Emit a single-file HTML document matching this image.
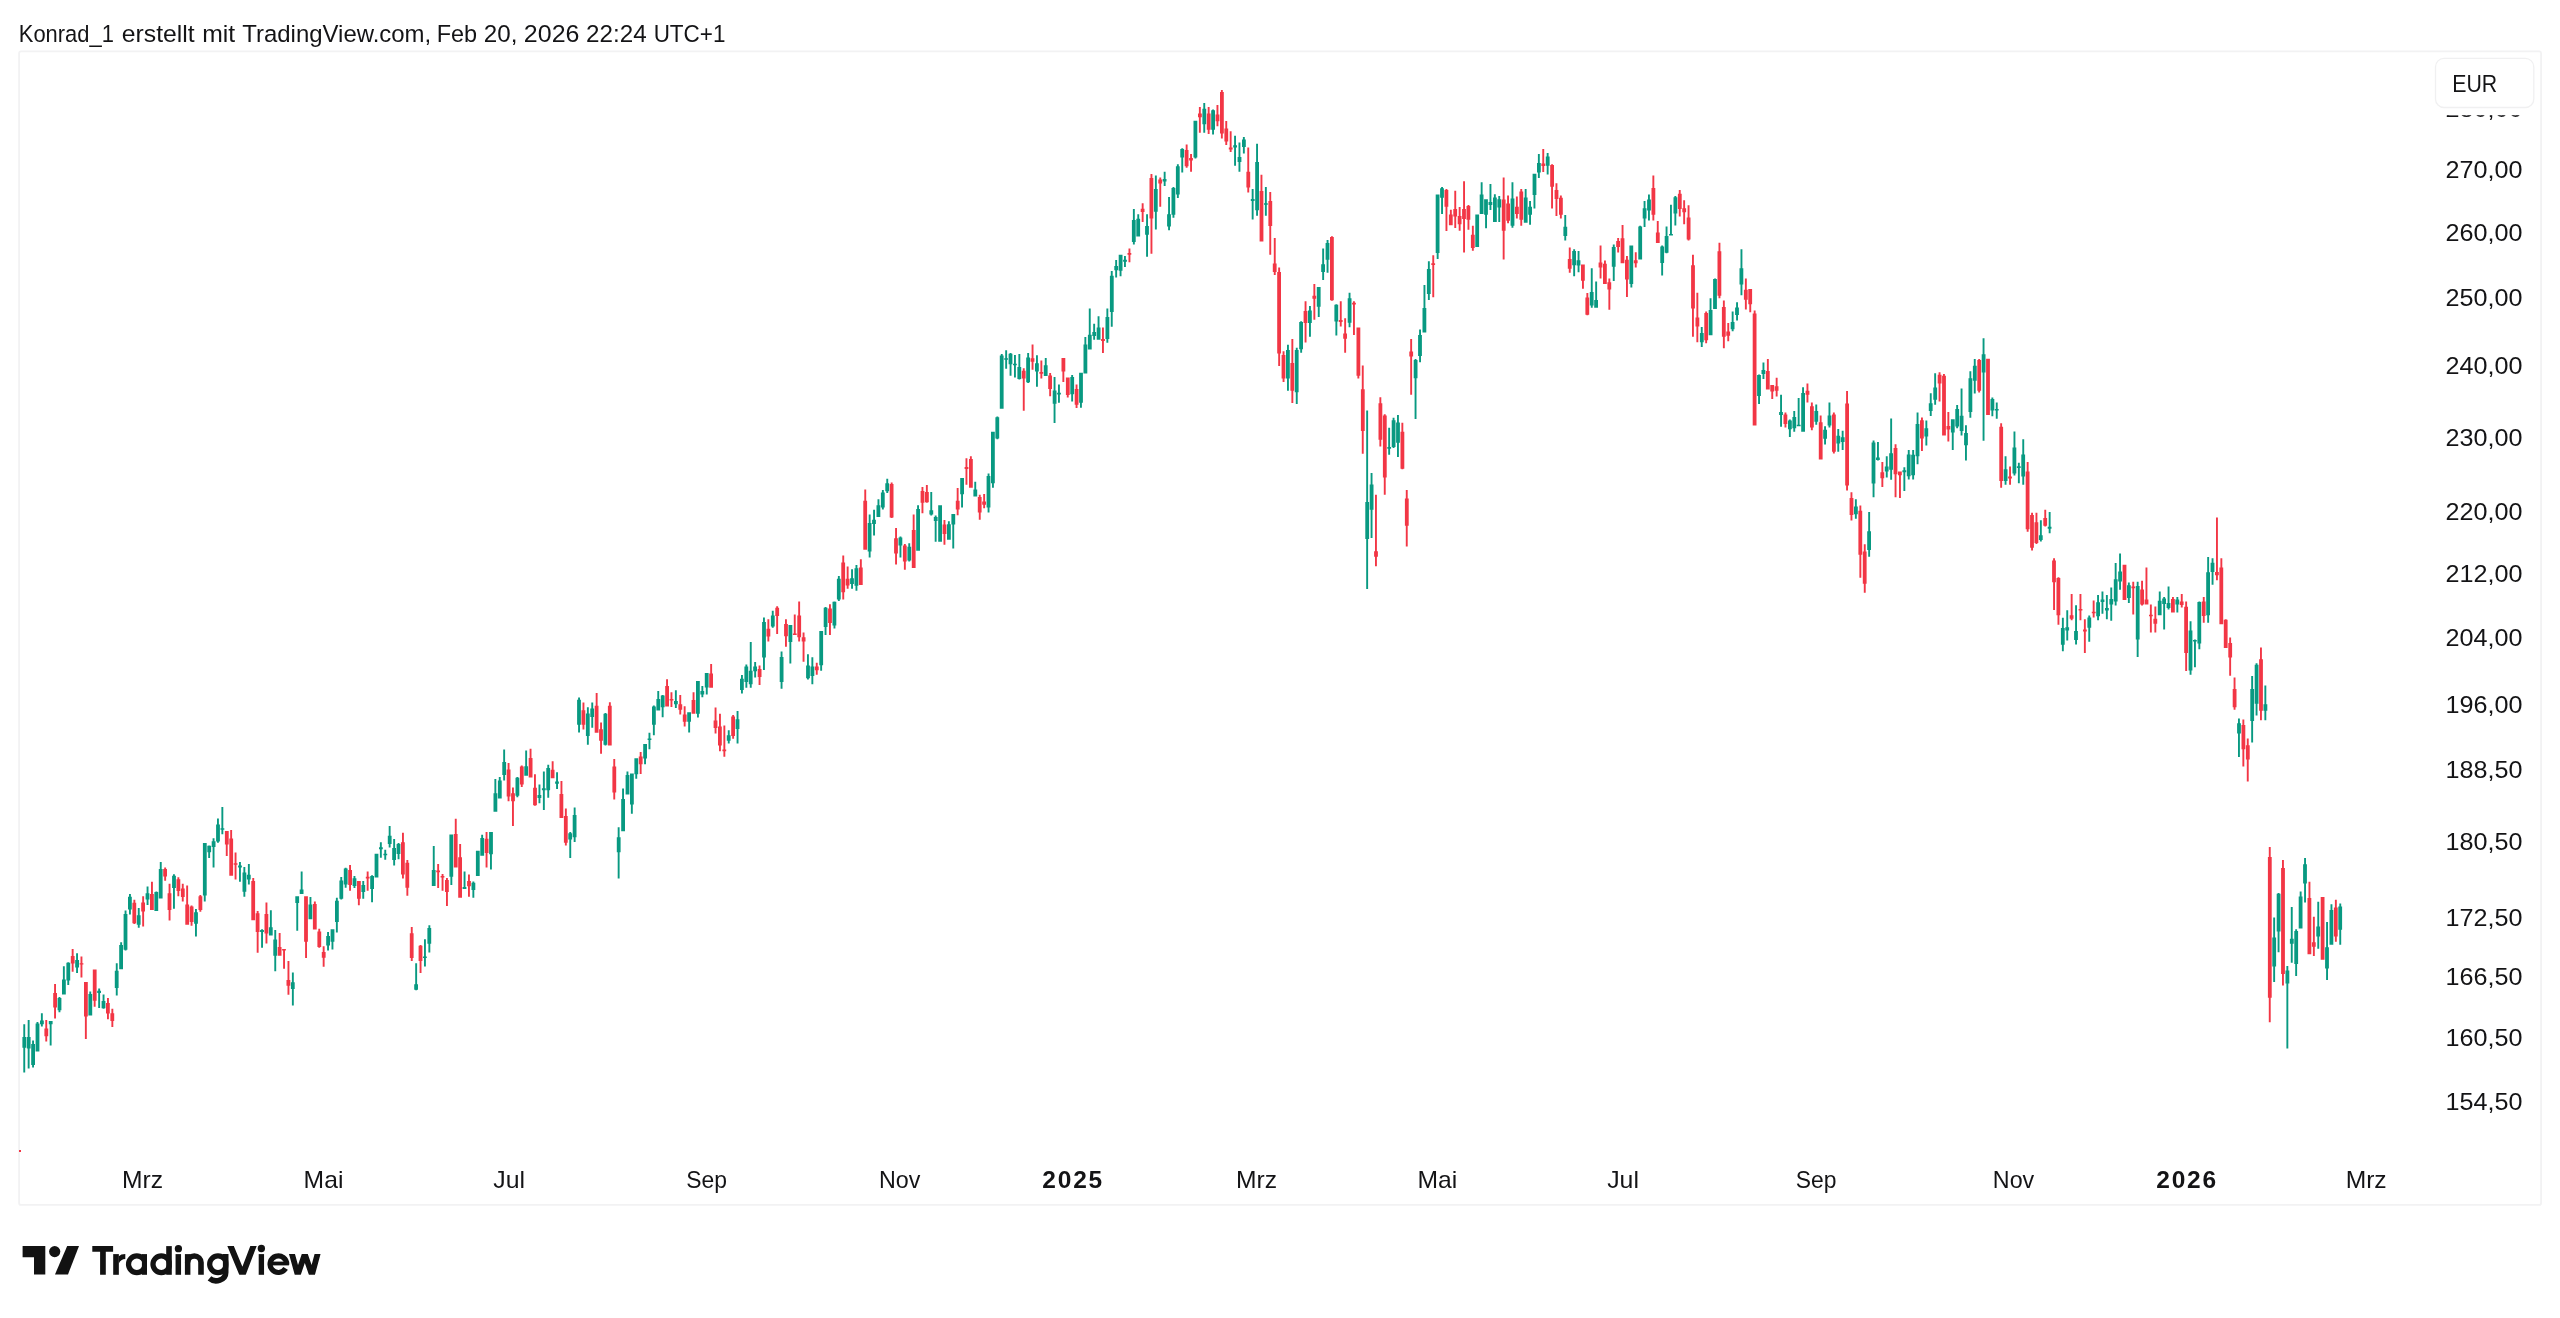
<!DOCTYPE html>
<html><head><meta charset="utf-8"><title>Chart</title>
<style>
html,body{margin:0;padding:0;background:#fff;}
body{width:2560px;height:1318px;position:relative;overflow:hidden;font-family:"Liberation Sans",sans-serif;}
svg{position:absolute;left:0;top:0;display:block;will-change:transform;}
text{font-family:"Liberation Sans",sans-serif;fill:#141416;}
</style></head><body>
<svg width="2560" height="1318" viewBox="0 0 2560 1318">
<rect x="0" y="0" width="2560" height="1318" fill="#fff"/>
<g font-size="24.5"><text x="18.81" y="42.0" textLength="95.07" lengthAdjust="spacingAndGlyphs">Konrad_1</text><text x="121.79" y="42.0" textLength="72.88" lengthAdjust="spacingAndGlyphs">erstellt</text><text x="202.23" y="42.0" textLength="32.96" lengthAdjust="spacingAndGlyphs">mit</text><text x="242.26" y="42.0" textLength="188.95" lengthAdjust="spacingAndGlyphs">TradingView.com,</text><text x="436.69" y="42.0" textLength="40.41" lengthAdjust="spacingAndGlyphs">Feb</text><text x="483.81" y="42.0" textLength="33.62" lengthAdjust="spacingAndGlyphs">20,</text><text x="523.88" y="42.0" textLength="55.58" lengthAdjust="spacingAndGlyphs">2026</text><text x="586.01" y="42.0" textLength="60.60" lengthAdjust="spacingAndGlyphs">22:24</text><text x="653.67" y="42.0" textLength="71.76" lengthAdjust="spacingAndGlyphs">UTC+1</text></g>
<rect x="19.1" y="51.3" width="2522" height="1153.6" rx="2" fill="none" stroke="#f2f2f3" stroke-width="1.8"/>
<g font-size="24.5"><text x="2445.6" y="117.20" textLength="76.95" lengthAdjust="spacingAndGlyphs">280,00</text><text x="2445.6" y="177.90" textLength="76.95" lengthAdjust="spacingAndGlyphs">270,00</text><text x="2445.6" y="240.89" textLength="76.95" lengthAdjust="spacingAndGlyphs">260,00</text><text x="2445.6" y="306.36" textLength="76.95" lengthAdjust="spacingAndGlyphs">250,00</text><text x="2445.6" y="374.49" textLength="76.95" lengthAdjust="spacingAndGlyphs">240,00</text><text x="2445.6" y="445.53" textLength="76.95" lengthAdjust="spacingAndGlyphs">230,00</text><text x="2445.6" y="519.72" textLength="76.95" lengthAdjust="spacingAndGlyphs">220,00</text><text x="2445.6" y="581.55" textLength="76.95" lengthAdjust="spacingAndGlyphs">212,00</text><text x="2445.6" y="645.75" textLength="76.95" lengthAdjust="spacingAndGlyphs">204,00</text><text x="2445.6" y="712.52" textLength="76.95" lengthAdjust="spacingAndGlyphs">196,00</text><text x="2445.6" y="777.65" textLength="76.95" lengthAdjust="spacingAndGlyphs">188,50</text><text x="2445.6" y="850.03" textLength="76.95" lengthAdjust="spacingAndGlyphs">180,50</text><text x="2445.6" y="925.70" textLength="76.95" lengthAdjust="spacingAndGlyphs">172,50</text><text x="2445.6" y="984.79" textLength="76.95" lengthAdjust="spacingAndGlyphs">166,50</text><text x="2445.6" y="1046.05" textLength="76.95" lengthAdjust="spacingAndGlyphs">160,50</text><text x="2445.6" y="1109.64" textLength="76.95" lengthAdjust="spacingAndGlyphs">154,50</text></g>
<rect x="2428" y="53" width="111" height="62.2" fill="#fff"/>
<rect x="2435.5" y="58.4" width="98.3" height="49.1" rx="8.5" fill="#fff" stroke="#f0f0f1" stroke-width="1.3"/>
<text x="2452.25" y="91.75" font-size="24.0" textLength="45.00" lengthAdjust="spacingAndGlyphs">EUR</text>
<g font-size="24.0"><text x="122.11" y="1187.8" textLength="41.03" lengthAdjust="spacingAndGlyphs">Mrz</text><text x="303.63" y="1187.8" textLength="39.74" lengthAdjust="spacingAndGlyphs">Mai</text><text x="493.23" y="1187.8" textLength="31.75" lengthAdjust="spacingAndGlyphs">Jul</text><text x="686.21" y="1187.8" textLength="40.72" lengthAdjust="spacingAndGlyphs">Sep</text><text x="878.89" y="1187.8" textLength="41.41" lengthAdjust="spacingAndGlyphs">Nov</text><text x="1236.07" y="1187.8" textLength="41.03" lengthAdjust="spacingAndGlyphs">Mrz</text><text x="1417.59" y="1187.8" textLength="39.74" lengthAdjust="spacingAndGlyphs">Mai</text><text x="1607.19" y="1187.8" textLength="31.75" lengthAdjust="spacingAndGlyphs">Jul</text><text x="1795.77" y="1187.8" textLength="40.72" lengthAdjust="spacingAndGlyphs">Sep</text><text x="1992.85" y="1187.8" textLength="41.41" lengthAdjust="spacingAndGlyphs">Nov</text><text x="2345.63" y="1187.8" textLength="41.03" lengthAdjust="spacingAndGlyphs">Mrz</text></g>
<g font-size="24.5" letter-spacing="1.8" text-anchor="middle" font-weight="bold"><text x="1073.16" y="1188.00">2025</text><text x="2187.12" y="1188.00">2026</text></g>
<rect x="19" y="1150" width="2" height="2" fill="#f23645"/>
<path fill="#089981" d="M23.3 1024.2h1.9V1037.1h-1.9zM22.4 1037.1h3.8V1047.7h-3.8zM23.3 1047.7h1.9V1072.4h-1.9zM27.7 1019.9h1.9V1037.1h-1.9zM26.8 1037.1h3.8V1048.5h-3.8zM27.7 1048.5h1.9V1068.5h-1.9zM32.1 1040.6h1.9V1043.9h-1.9zM31.2 1043.9h3.8V1064.9h-3.8zM32.1 1064.9h1.9V1067.4h-1.9zM36.5 1021.9h1.9V1023.4h-1.9zM35.6 1023.4h3.8V1051.5h-3.8zM40.9 1013.3h1.9V1020.4h-1.9zM40 1020.4h3.8V1024.2h-3.8zM40.9 1024.2h1.9V1026.5h-1.9zM48.8 1021.1h3.8V1024.2h-3.8zM49.7 1024.2h1.9V1045.4h-1.9zM58.5 996.9h1.9V998.1h-1.9zM57.6 998.1h3.8V1010.2h-3.8zM58.5 1010.2h1.9V1012.3h-1.9zM62.9 966.2h1.9V979.4h-1.9zM62 979.4h3.8V994.6h-3.8zM67.3 962.3h1.9V962.7h-1.9zM66.4 962.7h3.8V980.5h-3.8zM67.3 980.5h1.9V985h-1.9zM76.1 953.2h1.9V960h-1.9zM75.2 960h3.8V967.6h-3.8zM76.1 967.6h1.9V972.9h-1.9zM89.3 991.5h1.9V994.1h-1.9zM88.4 994.1h3.8V1015.5h-3.8zM98.2 988.5h1.9V990.8h-1.9zM97.2 990.8h3.8V993.1h-3.8zM98.2 993.1h1.9V1007.9h-1.9zM102.6 994.6h1.9V1001.1h-1.9zM101.6 1001.1h3.8V1008.2h-3.8zM102.6 1008.2h1.9V1008.7h-1.9zM115.8 963.2h1.9V970.8h-1.9zM114.8 970.8h3.8V988.1h-3.8zM115.8 988.1h1.9V995.6h-1.9zM120.2 942.2h1.9V945h-1.9zM119.2 945h3.8V969.2h-3.8zM124.6 910.4h1.9V914.1h-1.9zM123.6 914.1h3.8V949.8h-3.8zM124.6 949.8h1.9V950.6h-1.9zM129 894.1h1.9V896.7h-1.9zM128 896.7h3.8V909.6h-3.8zM129 909.6h1.9V914.6h-1.9zM137.8 908.1h1.9V915.2h-1.9zM136.8 915.2h3.8V924.8h-3.8zM137.8 924.8h1.9V927.8h-1.9zM146.6 886.4h1.9V893.2h-1.9zM145.6 893.2h3.8V899.6h-3.8zM146.6 899.6h1.9V905h-1.9zM155.4 891.4h1.9V892h-1.9zM154.4 892h3.8V911.1h-3.8zM159.8 862.1h1.9V868.9h-1.9zM158.8 868.9h3.8V898.5h-3.8zM173 874.2h1.9V875.7h-1.9zM172.1 875.7h3.8V887.9h-3.8zM173 887.9h1.9V908.7h-1.9zM195 909.1h1.9V912.2h-1.9zM194.1 912.2h3.8V923.8h-3.8zM195 923.8h1.9V936.4h-1.9zM202.9 843.1h3.8V895.5h-3.8zM203.8 895.5h1.9V901.5h-1.9zM208.2 845.4h1.9V845.7h-1.9zM207.3 845.7h3.8V852.2h-3.8zM208.2 852.2h1.9V858h-1.9zM212.6 838.3h1.9V841.3h-1.9zM211.7 841.3h3.8V846.9h-3.8zM212.6 846.9h1.9V867.4h-1.9zM217 818.5h1.9V824.6h-1.9zM216.1 824.6h3.8V841.6h-3.8zM217 841.6h1.9V842.8h-1.9zM221.4 807.1h1.9V828.2h-1.9zM220.5 828.2h3.8V829.8h-3.8zM221.4 829.8h1.9V834.3h-1.9zM239 862.1h1.9V865.6h-1.9zM238.1 865.6h3.8V867.4h-3.8zM239 867.4h1.9V881.8h-1.9zM243.4 867.1h1.9V872.4h-1.9zM242.5 872.4h3.8V891.7h-3.8zM243.4 891.7h1.9V896.7h-1.9zM247.9 863.9h1.9V874.7h-1.9zM246.9 874.7h3.8V879.5h-3.8zM247.9 879.5h1.9V884.4h-1.9zM261.1 929.3h1.9V929.9h-1.9zM260.1 929.9h3.8V931.9h-3.8zM261.1 931.9h1.9V947.8h-1.9zM269.9 910.2h1.9V927.3h-1.9zM268.9 927.3h3.8V935.4h-3.8zM274.3 929.9h1.9V939.5h-1.9zM273.3 939.5h3.8V955.7h-3.8zM274.3 955.7h1.9V971.3h-1.9zM291.9 972.4h1.9V982.2h-1.9zM290.9 982.2h3.8V989.1h-3.8zM291.9 989.1h1.9V1005.4h-1.9zM295.3 896.2h3.8V903.1h-3.8zM296.3 903.1h1.9V930.8h-1.9zM300.7 871.5h1.9V889.4h-1.9zM299.7 889.4h3.8V893.9h-3.8zM309.5 897h1.9V904.6h-1.9zM308.5 904.6h3.8V919.3h-3.8zM327.1 931.9h1.9V936h-1.9zM326.2 936h3.8V945.5h-3.8zM327.1 945.5h1.9V950.5h-1.9zM330.6 929.3h3.8V941.7h-3.8zM331.5 941.7h1.9V949.6h-1.9zM335.9 897.7h1.9V900.8h-1.9zM335 900.8h3.8V922h-3.8zM335.9 922h1.9V932.6h-1.9zM340.3 877.1h1.9V880.6h-1.9zM339.4 880.6h3.8V898.8h-3.8zM340.3 898.8h1.9V899.5h-1.9zM344.7 867.7h1.9V868.4h-1.9zM343.8 868.4h3.8V884.4h-3.8zM344.7 884.4h1.9V887.7h-1.9zM353.5 876h1.9V878.3h-1.9zM352.6 878.3h3.8V885.9h-3.8zM353.5 885.9h1.9V888.1h-1.9zM362.3 881h1.9V885.1h-1.9zM361.4 885.1h3.8V891.9h-3.8zM362.3 891.9h1.9V898.8h-1.9zM371.1 875.3h1.9V876h-1.9zM370.2 876h3.8V888.9h-3.8zM371.1 888.9h1.9V902.3h-1.9zM374.6 853.7h3.8V877.5h-3.8zM379.9 842.2h1.9V847.2h-1.9zM379 847.2h3.8V849.2h-3.8zM379.9 849.2h1.9V857.8h-1.9zM384.3 849.8h1.9V853.7h-1.9zM383.4 853.7h3.8V855.2h-3.8zM384.3 855.2h1.9V859.8h-1.9zM388.7 825.9h1.9V835.8h-1.9zM387.8 835.8h3.8V844.1h-3.8zM388.7 844.1h1.9V847.6h-1.9zM393.2 839.1h1.9V847.9h-1.9zM392.2 847.9h3.8V860.1h-3.8zM393.2 860.1h1.9V865.4h-1.9zM397.6 843.1h1.9V844.1h-1.9zM396.6 844.1h3.8V854h-3.8zM397.6 854h1.9V859.3h-1.9zM415.2 963.3h1.9V984.2h-1.9zM414.2 984.2h3.8V989.8h-3.8zM415.2 989.8h1.9V990.3h-1.9zM424 939.3h1.9V956.4h-1.9zM423 956.4h3.8V958h-3.8zM424 958h1.9V966.6h-1.9zM428.4 925.3h1.9V928.1h-1.9zM427.4 928.1h3.8V943.8h-3.8zM428.4 943.8h1.9V952.6h-1.9zM432.8 846.1h1.9V869.9h-1.9zM431.8 869.9h3.8V885.9h-3.8zM449.4 834.6h3.8V876.8h-3.8zM450.4 876.8h1.9V885.1h-1.9zM463.6 871.5h1.9V887.1h-1.9zM462.6 887.1h3.8V888.9h-3.8zM472.4 881.6h1.9V882.8h-1.9zM471.5 882.8h3.8V890.1h-3.8zM472.4 890.1h1.9V897.7h-1.9zM475.9 850.7h3.8V876h-3.8zM481.2 834.8h1.9V838h-1.9zM480.3 838h3.8V855.8h-3.8zM489.1 831.9h3.8V854.2h-3.8zM490 854.2h1.9V869.5h-1.9zM494.4 779h1.9V793.3h-1.9zM493.5 793.3h3.8V811.7h-3.8zM498.8 777.1h1.9V780.6h-1.9zM497.9 780.6h3.8V798.4h-3.8zM503.2 749.5h1.9V762h-1.9zM502.3 762h3.8V775h-3.8zM503.2 775h1.9V780.6h-1.9zM516.4 777.1h1.9V777.7h-1.9zM515.5 777.7h3.8V795.7h-3.8zM516.4 795.7h1.9V797.3h-1.9zM525.2 750.6h1.9V766.3h-1.9zM524.3 766.3h3.8V775.8h-3.8zM538.5 784.6h1.9V794.9h-1.9zM537.5 794.9h3.8V798.1h-3.8zM538.5 798.1h1.9V803.2h-1.9zM542.9 771.4h1.9V788.3h-1.9zM541.9 788.3h3.8V790.2h-3.8zM542.9 790.2h1.9V810.1h-1.9zM547.3 764.7h1.9V767.9h-1.9zM546.3 767.9h3.8V790.2h-3.8zM547.3 790.2h1.9V797.7h-1.9zM556.1 772.3h1.9V781.4h-1.9zM555.1 781.4h3.8V783.8h-3.8zM556.1 783.8h1.9V788.9h-1.9zM569.3 831.9h1.9V833.2h-1.9zM568.3 833.2h3.8V839.6h-3.8zM569.3 839.6h1.9V857.9h-1.9zM573.7 807.4h1.9V814.9h-1.9zM572.7 814.9h3.8V837.2h-3.8zM573.7 837.2h1.9V841.9h-1.9zM578.1 697.4h1.9V699.7h-1.9zM577.1 699.7h3.8V724.8h-3.8zM578.1 724.8h1.9V732.5h-1.9zM586.9 707.3h1.9V713.4h-1.9zM585.9 713.4h3.8V736h-3.8zM586.9 736h1.9V744.8h-1.9zM591.3 702.5h1.9V708.6h-1.9zM590.3 708.6h3.8V716.9h-3.8zM591.3 716.9h1.9V727.7h-1.9zM604.5 712.9h1.9V713.7h-1.9zM603.5 713.7h3.8V744.8h-3.8zM604.5 744.8h1.9V745.5h-1.9zM617.7 827.3h1.9V837.2h-1.9zM616.8 837.2h3.8V852.3h-3.8zM617.7 852.3h1.9V878.6h-1.9zM622.1 788.6h1.9V798.9h-1.9zM621.2 798.9h3.8V831.3h-3.8zM626.5 771.4h1.9V775h-1.9zM625.6 775h3.8V794.6h-3.8zM630 773.4h3.8V804.5h-3.8zM630.9 804.5h1.9V813.7h-1.9zM634.4 758.3h3.8V774.2h-3.8zM635.3 774.2h1.9V778.7h-1.9zM643.2 744h3.8V758.6h-3.8zM644.1 758.6h1.9V764.3h-1.9zM648.5 732.8h1.9V738.4h-1.9zM647.6 738.4h3.8V740h-3.8zM648.5 740h1.9V749.2h-1.9zM652.9 705.4h1.9V706.5h-1.9zM652 706.5h3.8V724.8h-3.8zM652.9 724.8h1.9V735.2h-1.9zM657.3 691.1h1.9V699h-1.9zM656.4 699h3.8V710.5h-3.8zM661.7 694.9h1.9V695.4h-1.9zM660.8 695.4h3.8V707.3h-3.8zM661.7 707.3h1.9V717.3h-1.9zM674.9 690.3h1.9V701h-1.9zM674 701h3.8V704.2h-3.8zM674.9 704.2h1.9V707.9h-1.9zM687.2 712.2h3.8V721.7h-3.8zM688.2 721.7h1.9V732.4h-1.9zM696 681.1h3.8V713.8h-3.8zM697 713.8h1.9V717.4h-1.9zM701.4 685.9h1.9V691h-1.9zM700.4 691h3.8V694.6h-3.8zM701.4 694.6h1.9V697.3h-1.9zM704.8 673.1h3.8V687.5h-3.8zM705.8 687.5h1.9V694.6h-1.9zM727.8 730.2h1.9V735.3h-1.9zM726.8 735.3h3.8V740.8h-3.8zM727.8 740.8h1.9V743.6h-1.9zM736.6 711.1h1.9V719.3h-1.9zM735.6 719.3h3.8V728.9h-3.8zM736.6 728.9h1.9V743.6h-1.9zM741 675h1.9V678.7h-1.9zM740 678.7h3.8V689.9h-3.8zM741 689.9h1.9V693.5h-1.9zM745.4 664.4h1.9V666.4h-1.9zM744.4 666.4h3.8V681.9h-3.8zM745.4 681.9h1.9V687.8h-1.9zM749.8 642.1h1.9V670.7h-1.9zM748.8 670.7h3.8V684.3h-3.8zM749.8 684.3h1.9V687.8h-1.9zM754.2 662h1.9V666.4h-1.9zM753.2 666.4h3.8V671.2h-3.8zM754.2 671.2h1.9V677.6h-1.9zM763 617.4h1.9V622.1h-1.9zM762.1 622.1h3.8V657.5h-3.8zM763 657.5h1.9V669.9h-1.9zM771.8 610.7h1.9V615.4h-1.9zM770.9 615.4h3.8V626.6h-3.8zM771.8 626.6h1.9V627.7h-1.9zM780.6 651.6h1.9V656.9h-1.9zM779.7 656.9h3.8V681.9h-3.8zM780.6 681.9h1.9V688.7h-1.9zM788.5 625h3.8V642.1h-3.8zM789.4 642.1h1.9V663.6h-1.9zM807 654.3h1.9V665.5h-1.9zM806.1 665.5h3.8V678.2h-3.8zM807 678.2h1.9V679.5h-1.9zM811.4 657.2h1.9V666.4h-1.9zM810.5 666.4h3.8V676h-3.8zM811.4 676h1.9V684.3h-1.9zM819.3 630.9h3.8V665.2h-3.8zM820.2 665.2h1.9V670.7h-1.9zM824.6 607h1.9V607.8h-1.9zM823.7 607.8h3.8V626.9h-3.8zM824.6 626.9h1.9V634.9h-1.9zM833.5 601.4h1.9V601.7h-1.9zM832.5 601.7h3.8V625.6h-3.8zM833.5 625.6h1.9V628.5h-1.9zM837.9 575.9h1.9V578.8h-1.9zM836.9 578.8h3.8V599.5h-3.8zM837.9 599.5h1.9V601.1h-1.9zM851.1 569.2h1.9V578.3h-1.9zM850.1 578.3h3.8V583.9h-3.8zM851.1 583.9h1.9V588.7h-1.9zM855.5 564.9h1.9V568.3h-1.9zM854.5 568.3h3.8V585.7h-3.8zM855.5 585.7h1.9V590.7h-1.9zM868.7 514.4h1.9V523h-1.9zM867.7 523h3.8V551.6h-3.8zM868.7 551.6h1.9V557.6h-1.9zM873.1 509.8h1.9V519.7h-1.9zM872.1 519.7h3.8V524h-3.8zM873.1 524h1.9V535.6h-1.9zM877.5 499.2h1.9V505.3h-1.9zM876.5 505.3h3.8V517h-3.8zM881.9 490.1h1.9V492.4h-1.9zM880.9 492.4h3.8V507.6h-3.8zM881.9 507.6h1.9V509.4h-1.9zM886.3 478.7h1.9V483.3h-1.9zM885.3 483.3h3.8V491.2h-3.8zM886.3 491.2h1.9V493.1h-1.9zM899.5 536.4h1.9V537.6h-1.9zM898.5 537.6h3.8V545.5h-3.8zM899.5 545.5h1.9V557.6h-1.9zM908.3 543.2h1.9V546.7h-1.9zM907.4 546.7h3.8V560.4h-3.8zM908.3 560.4h1.9V561.4h-1.9zM917.1 505.3h1.9V509.1h-1.9zM916.2 509.1h3.8V550.8h-3.8zM930.3 492.1h1.9V510.3h-1.9zM929.4 510.3h3.8V514.4h-3.8zM930.3 514.4h1.9V515.5h-1.9zM934.7 515.5h1.9V517h-1.9zM933.8 517h3.8V520.9h-3.8zM934.7 520.9h1.9V541.7h-1.9zM938.2 505.3h3.8V541.7h-3.8zM947.9 521.2h1.9V524.3h-1.9zM947 524.3h3.8V539.7h-3.8zM951.4 513.9h3.8V524.6h-3.8zM952.3 524.6h1.9V548.5h-1.9zM960.2 478h3.8V494.2h-3.8zM961.1 494.2h1.9V507.6h-1.9zM974.3 481.8h1.9V489.4h-1.9zM973.4 489.4h3.8V496.5h-3.8zM987.6 473.4h1.9V476h-1.9zM986.6 476h3.8V507.6h-3.8zM987.6 507.6h1.9V512.4h-1.9zM991 431.7h3.8V483.3h-3.8zM992 483.3h1.9V487.8h-1.9zM996.4 416.5h1.9V417.3h-1.9zM995.4 417.3h3.8V438.5h-3.8zM996.4 438.5h1.9V439.3h-1.9zM1000.8 354.1h1.9V355.6h-1.9zM999.8 355.6h3.8V408.7h-3.8zM1005.2 350.3h1.9V358.2h-1.9zM1004.2 358.2h3.8V359.7h-3.8zM1005.2 359.7h1.9V368.8h-1.9zM1009.6 353.1h1.9V353.7h-1.9zM1008.6 353.7h3.8V364.3h-3.8zM1009.6 364.3h1.9V375.8h-1.9zM1014 354.9h1.9V363.7h-1.9zM1013 363.7h3.8V365.2h-3.8zM1014 365.2h1.9V377.6h-1.9zM1018.4 354.1h1.9V367h-1.9zM1017.4 367h3.8V378.9h-3.8zM1018.4 378.9h1.9V379.5h-1.9zM1027.2 353.1h1.9V357.6h-1.9zM1026.2 357.6h3.8V382.2h-3.8zM1027.2 382.2h1.9V383h-1.9zM1036 355.2h1.9V363.2h-1.9zM1035 363.2h3.8V371.6h-3.8zM1036 371.6h1.9V386.7h-1.9zM1044.8 357.9h1.9V365.2h-1.9zM1043.8 365.2h3.8V376.1h-3.8zM1053.6 376.9h1.9V390.5h-1.9zM1052.7 390.5h3.8V403.7h-3.8zM1053.6 403.7h1.9V422.9h-1.9zM1058 384.5h1.9V392.8h-1.9zM1057.1 392.8h3.8V394.6h-3.8zM1058 394.6h1.9V402.7h-1.9zM1071.2 374.9h1.9V376.9h-1.9zM1070.3 376.9h3.8V394.3h-3.8zM1071.2 394.3h1.9V401.6h-1.9zM1079.1 372.8h3.8V402.7h-3.8zM1080 402.7h1.9V407.7h-1.9zM1084.4 337h1.9V344.6h-1.9zM1083.5 344.6h3.8V373.4h-3.8zM1088.8 308.6h1.9V334.8h-1.9zM1087.9 334.8h3.8V349.6h-3.8zM1093.2 323.8h1.9V332.1h-1.9zM1092.3 332.1h3.8V335.9h-3.8zM1093.2 335.9h1.9V339.7h-1.9zM1097.6 316.2h1.9V327.6h-1.9zM1096.7 327.6h3.8V339.7h-3.8zM1106.4 308.6h1.9V316.9h-1.9zM1105.5 316.9h3.8V338.9h-3.8zM1106.4 338.9h1.9V342.7h-1.9zM1110.8 271.1h1.9V275.7h-1.9zM1109.9 275.7h3.8V312.1h-3.8zM1110.8 312.1h1.9V326.8h-1.9zM1115.2 260h1.9V266.1h-1.9zM1114.3 266.1h3.8V270.2h-3.8zM1115.2 270.2h1.9V277.5h-1.9zM1118.7 254.7h3.8V270.7h-3.8zM1119.6 270.7h1.9V276.3h-1.9zM1124 256h1.9V259.8h-1.9zM1123.1 259.8h3.8V261.8h-3.8zM1124 261.8h1.9V266.9h-1.9zM1132.9 209h1.9V219.9h-1.9zM1131.9 219.9h3.8V242.1h-3.8zM1132.9 242.1h1.9V244.6h-1.9zM1137.3 214.3h1.9V218.8h-1.9zM1136.3 218.8h3.8V236.6h-3.8zM1146.1 214.3h1.9V226h-1.9zM1145.1 226h3.8V234.8h-3.8zM1146.1 234.8h1.9V256.8h-1.9zM1154.9 175.6h1.9V189h-1.9zM1153.9 189h3.8V211.7h-3.8zM1154.9 211.7h1.9V229.5h-1.9zM1163.7 171.8h1.9V178.9h-1.9zM1162.7 178.9h3.8V181.4h-3.8zM1163.7 181.4h1.9V185.9h-1.9zM1168.1 197.1h1.9V214.3h-1.9zM1167.1 214.3h3.8V226.4h-3.8zM1168.1 226.4h1.9V230.2h-1.9zM1172.5 187h1.9V188h-1.9zM1171.5 188h3.8V214.7h-3.8zM1172.5 214.7h1.9V217.8h-1.9zM1176.9 164.2h1.9V166.2h-1.9zM1175.9 166.2h3.8V194.6h-3.8zM1176.9 194.6h1.9V198.1h-1.9zM1181.3 148.3h1.9V149h-1.9zM1180.3 149h3.8V157.4h-3.8zM1181.3 157.4h1.9V172.6h-1.9zM1193.5 120.7h3.8V157.4h-3.8zM1194.5 157.4h1.9V158.6h-1.9zM1203.3 103.1h1.9V108.8h-1.9zM1202.4 108.8h3.8V124.3h-3.8zM1203.3 124.3h1.9V132.8h-1.9zM1212.1 109.6h1.9V110.3h-1.9zM1211.2 110.3h3.8V129.8h-3.8zM1212.1 129.8h1.9V134.6h-1.9zM1234.1 135.8h1.9V145.3h-1.9zM1233.2 145.3h3.8V147.5h-3.8zM1234.1 147.5h1.9V165.7h-1.9zM1238.5 142.5h1.9V157.1h-1.9zM1237.6 157.1h3.8V161.9h-3.8zM1238.5 161.9h1.9V171.8h-1.9zM1242.9 136.9h1.9V139.5h-1.9zM1242 139.5h3.8V147.1h-3.8zM1242.9 147.1h1.9V153.6h-1.9zM1251.7 189h1.9V199.1h-1.9zM1250.8 199.1h3.8V201.1h-3.8zM1251.7 201.1h1.9V219.6h-1.9zM1256.1 143.7h1.9V161.9h-1.9zM1255.2 161.9h3.8V210.2h-3.8zM1256.1 210.2h1.9V215.8h-1.9zM1264.9 187h1.9V203.2h-1.9zM1264 203.2h3.8V204.7h-3.8zM1264.9 204.7h1.9V215.8h-1.9zM1287 344.7h1.9V350.1h-1.9zM1286 350.1h3.8V378.6h-3.8zM1287 378.6h1.9V390.7h-1.9zM1295.8 347.8h1.9V350.1h-1.9zM1294.8 350.1h3.8V392.2h-3.8zM1295.8 392.2h1.9V403.9h-1.9zM1300.2 321.2h1.9V322h-1.9zM1299.2 322h3.8V349.3h-3.8zM1300.2 349.3h1.9V352.8h-1.9zM1309 306h1.9V310.6h-1.9zM1308 310.6h3.8V323h-3.8zM1309 323h1.9V336.7h-1.9zM1316.8 287.1h3.8V306.8h-3.8zM1317.8 306.8h1.9V317h-1.9zM1322.2 248.4h1.9V264.3h-1.9zM1321.2 264.3h3.8V271.9h-3.8zM1322.2 271.9h1.9V279.9h-1.9zM1326.6 240h1.9V243.1h-1.9zM1325.6 243.1h3.8V259.8h-3.8zM1326.6 259.8h1.9V272.7h-1.9zM1335.4 304.2h1.9V304.8h-1.9zM1334.4 304.8h3.8V321.5h-3.8zM1335.4 321.5h1.9V335.6h-1.9zM1348.6 292.7h1.9V298.2h-1.9zM1347.7 298.2h3.8V322.7h-3.8zM1348.6 322.7h1.9V327.3h-1.9zM1366.2 410.5h1.9V502.1h-1.9zM1365.3 502.1h3.8V538.9h-3.8zM1366.2 538.9h1.9V589h-1.9zM1370.6 473h1.9V484.6h-1.9zM1369.7 484.6h3.8V509.8h-3.8zM1370.6 509.8h1.9V538h-1.9zM1388.2 427.8h1.9V447h-1.9zM1387.3 447h3.8V448.8h-3.8zM1388.2 448.8h1.9V454.8h-1.9zM1392.6 417.8h1.9V420.2h-1.9zM1391.7 420.2h3.8V447h-3.8zM1392.6 447h1.9V447.9h-1.9zM1397 415.1h1.9V422.4h-1.9zM1396.1 422.4h3.8V442.8h-3.8zM1397 442.8h1.9V457h-1.9zM1414.6 359h1.9V360.1h-1.9zM1413.7 360.1h3.8V378.3h-3.8zM1414.6 378.3h1.9V419.1h-1.9zM1419.1 329.6h1.9V334.9h-1.9zM1418.1 334.9h3.8V356.1h-3.8zM1419.1 356.1h1.9V362.2h-1.9zM1423.5 285.1h1.9V307.9h-1.9zM1422.5 307.9h3.8V332.6h-3.8zM1427.9 261.3h1.9V268.9h-1.9zM1426.9 268.9h3.8V293.9h-3.8zM1427.9 293.9h1.9V300h-1.9zM1435.7 194.6h3.8V253.1h-3.8zM1436.7 253.1h1.9V259.1h-1.9zM1441.1 187h1.9V188.3h-1.9zM1440.1 188.3h3.8V197.7h-3.8zM1441.1 197.7h1.9V214.1h-1.9zM1475.3 214.4h3.8V247h-3.8zM1480.7 182.2h1.9V194.6h-1.9zM1479.7 194.6h3.8V214.1h-3.8zM1484.1 199.2h3.8V214.7h-3.8zM1485.1 214.7h1.9V228.3h-1.9zM1489.5 184h1.9V201.9h-1.9zM1488.5 201.9h3.8V204.9h-3.8zM1489.5 204.9h1.9V210.1h-1.9zM1493.9 194.3h1.9V197.4h-1.9zM1493 197.4h3.8V221.9h-3.8zM1498.3 196.1h1.9V199.2h-1.9zM1497.4 199.2h3.8V207.5h-3.8zM1498.3 207.5h1.9V221.9h-1.9zM1511.5 182.2h1.9V198.4h-1.9zM1510.6 198.4h3.8V225.7h-3.8zM1511.5 225.7h1.9V227.7h-1.9zM1524.7 188.9h1.9V197.4h-1.9zM1523.8 197.4h3.8V222.7h-3.8zM1529.1 201h1.9V206.8h-1.9zM1528.2 206.8h3.8V214.7h-3.8zM1529.1 214.7h1.9V224.7h-1.9zM1532.6 173.7h3.8V194.9h-3.8zM1533.5 194.9h1.9V208.6h-1.9zM1537.9 154h1.9V163.1h-1.9zM1537 163.1h3.8V172.6h-3.8zM1537.9 172.6h1.9V177.9h-1.9zM1546.7 152.9h1.9V156.4h-1.9zM1545.8 156.4h3.8V165.8h-3.8zM1546.7 165.8h1.9V174.6h-1.9zM1564.3 215.1h1.9V226.8h-1.9zM1563.4 226.8h3.8V235.9h-3.8zM1564.3 235.9h1.9V240.5h-1.9zM1573.2 249.3h1.9V251.1h-1.9zM1572.2 251.1h3.8V265.2h-3.8zM1573.2 265.2h1.9V276.3h-1.9zM1577.6 251.1h1.9V260.2h-1.9zM1576.6 260.2h3.8V265.6h-3.8zM1577.6 265.6h1.9V272.3h-1.9zM1590.8 268.2h1.9V292h-1.9zM1589.8 292h3.8V305.4h-3.8zM1590.8 305.4h1.9V307.7h-1.9zM1595.2 281.4h1.9V300.1h-1.9zM1594.2 300.1h3.8V307.7h-3.8zM1612.8 244.4h1.9V247h-1.9zM1611.8 247h3.8V266.7h-3.8zM1612.8 266.7h1.9V281.1h-1.9zM1629.4 245.4h3.8V284.1h-3.8zM1630.4 284.1h1.9V287.6h-1.9zM1639.2 225.7h1.9V226.5h-1.9zM1638.3 226.5h3.8V259.4h-3.8zM1643.6 201.1h1.9V208.2h-1.9zM1642.7 208.2h3.8V218.4h-3.8zM1643.6 218.4h1.9V226.9h-1.9zM1648 194.6h1.9V199.6h-1.9zM1647.1 199.6h3.8V210.5h-3.8zM1648 210.5h1.9V220.4h-1.9zM1661.2 245.4h1.9V246.6h-1.9zM1660.3 246.6h3.8V262.9h-3.8zM1661.2 262.9h1.9V275.5h-1.9zM1665.6 226.5h1.9V236h-1.9zM1664.7 236h3.8V252.7h-3.8zM1665.6 252.7h1.9V253.3h-1.9zM1670 204.8h1.9V234h-1.9zM1669.1 234h3.8V235.6h-3.8zM1674.4 196.1h1.9V197.2h-1.9zM1673.5 197.2h3.8V213.6h-3.8zM1674.4 213.6h1.9V225.4h-1.9zM1700.8 327.1h1.9V333.1h-1.9zM1699.9 333.1h3.8V342.2h-3.8zM1700.8 342.2h1.9V347.1h-1.9zM1709.6 298.2h1.9V309.9h-1.9zM1708.7 309.9h3.8V335.3h-3.8zM1714.1 278.5h1.9V279.1h-1.9zM1713.1 279.1h3.8V308.9h-3.8zM1731.7 311.4h1.9V322.1h-1.9zM1730.7 322.1h3.8V329.2h-3.8zM1731.7 329.2h1.9V331.2h-1.9zM1736.1 302.3h1.9V307.6h-1.9zM1735.1 307.6h3.8V314.9h-3.8zM1736.1 314.9h1.9V320.5h-1.9zM1740.5 249.2h1.9V268.2h-1.9zM1739.5 268.2h3.8V284.6h-3.8zM1740.5 284.6h1.9V295.2h-1.9zM1758.1 374.4h1.9V375.1h-1.9zM1757.1 375.1h3.8V395.9h-3.8zM1758.1 395.9h1.9V403.9h-1.9zM1762.5 362.5h1.9V370.1h-1.9zM1761.5 370.1h3.8V374.1h-3.8zM1762.5 374.1h1.9V378.9h-1.9zM1780.1 394.8h1.9V412h-1.9zM1779.1 412h3.8V415h-3.8zM1780.1 415h1.9V426.7h-1.9zM1788.9 419.6h1.9V420.6h-1.9zM1788 420.6h3.8V429.3h-3.8zM1788.9 429.3h1.9V436.9h-1.9zM1793.3 411.1h1.9V417.1h-1.9zM1792.4 417.1h3.8V428.2h-3.8zM1793.3 428.2h1.9V431.7h-1.9zM1797.7 397.9h1.9V424.7h-1.9zM1796.8 424.7h3.8V426.3h-3.8zM1802.1 387.3h1.9V392.9h-1.9zM1801.2 392.9h3.8V431.7h-3.8zM1815.3 404.4h1.9V411.1h-1.9zM1814.4 411.1h3.8V421.7h-3.8zM1815.3 421.7h1.9V424.7h-1.9zM1824.1 426.3h1.9V429.7h-1.9zM1823.2 429.7h3.8V438.8h-3.8zM1824.1 438.8h1.9V444.5h-1.9zM1828.5 402.4h1.9V415.6h-1.9zM1827.6 415.6h3.8V425.6h-3.8zM1828.5 425.6h1.9V427.5h-1.9zM1837.3 429h1.9V435.8h-1.9zM1836.4 435.8h3.8V443.4h-3.8zM1837.3 443.4h1.9V451.7h-1.9zM1841.7 430.8h1.9V437.3h-1.9zM1840.8 437.3h3.8V441.9h-3.8zM1841.7 441.9h1.9V449.9h-1.9zM1854.9 499.3h1.9V506.4h-1.9zM1854 506.4h3.8V514.2h-3.8zM1854.9 514.2h1.9V518.7h-1.9zM1868.2 512h1.9V531.3h-1.9zM1867.2 531.3h3.8V549.9h-3.8zM1868.2 549.9h1.9V556.7h-1.9zM1872.6 440.4h1.9V442.6h-1.9zM1871.6 442.6h3.8V483.6h-3.8zM1872.6 483.6h1.9V497.3h-1.9zM1877 441.9h1.9V457.5h-1.9zM1876 457.5h3.8V460.1h-3.8zM1877 460.1h1.9V460.5h-1.9zM1885.8 456.3h1.9V466.6h-1.9zM1884.8 466.6h3.8V471.5h-3.8zM1885.8 471.5h1.9V477.5h-1.9zM1890.2 418.4h1.9V453.3h-1.9zM1889.2 453.3h3.8V469.7h-3.8zM1890.2 469.7h1.9V479.8h-1.9zM1903.4 467.2h1.9V470.3h-1.9zM1902.4 470.3h3.8V472.2h-3.8zM1903.4 472.2h1.9V490.9h-1.9zM1907.8 449.9h1.9V454.5h-1.9zM1906.8 454.5h3.8V476.3h-3.8zM1907.8 476.3h1.9V479.4h-1.9zM1912.2 449.9h1.9V454.8h-1.9zM1911.2 454.8h3.8V475.3h-3.8zM1912.2 475.3h1.9V479.4h-1.9zM1916.6 412.6h1.9V424.1h-1.9zM1915.6 424.1h3.8V456.3h-3.8zM1916.6 456.3h1.9V464.2h-1.9zM1925.4 420.6h1.9V428.2h-1.9zM1924.4 428.2h3.8V436.6h-3.8zM1925.4 436.6h1.9V445.4h-1.9zM1929.8 393.3h1.9V403.2h-1.9zM1928.8 403.2h3.8V411.1h-3.8zM1929.8 411.1h1.9V416.1h-1.9zM1934.2 373.2h1.9V387.4h-1.9zM1933.3 387.4h3.8V399.8h-3.8zM1934.2 399.8h1.9V404.7h-1.9zM1950.9 419.2h3.8V432.4h-3.8zM1951.8 432.4h1.9V449.9h-1.9zM1956.2 405.1h1.9V408.9h-1.9zM1955.3 408.9h3.8V426.4h-3.8zM1956.2 426.4h1.9V428.3h-1.9zM1960.6 388.4h1.9V415.7h-1.9zM1959.7 415.7h3.8V430.9h-3.8zM1960.6 430.9h1.9V435.5h-1.9zM1965 425.3h1.9V432.9h-1.9zM1964.1 432.9h3.8V445.3h-3.8zM1965 445.3h1.9V460.5h-1.9zM1969.4 371.3h1.9V378.3h-1.9zM1968.5 378.3h3.8V411.9h-3.8zM1969.4 411.9h1.9V417.7h-1.9zM1973.8 359.1h1.9V365.7h-1.9zM1972.9 365.7h3.8V380.8h-3.8zM1973.8 380.8h1.9V393.4h-1.9zM1982.6 338.3h1.9V354.3h-1.9zM1981.7 354.3h3.8V372.5h-3.8zM1982.6 372.5h1.9V440.8h-1.9zM1991.4 397.5h1.9V399h-1.9zM1990.5 399h3.8V410.4h-3.8zM1991.4 410.4h1.9V416.2h-1.9zM1995.8 402.5h1.9V408.9h-1.9zM1994.9 408.9h3.8V410.4h-3.8zM1995.8 410.4h1.9V418.8h-1.9zM2004.6 456.3h1.9V469.3h-1.9zM2003.7 469.3h3.8V481h-3.8zM2004.6 481h1.9V484.8h-1.9zM2013.5 431.4h1.9V447.6h-1.9zM2012.5 447.6h3.8V473.4h-3.8zM2013.5 473.4h1.9V475.4h-1.9zM2017.9 462.8h1.9V466.3h-1.9zM2016.9 466.3h3.8V468.1h-3.8zM2017.9 468.1h1.9V483.3h-1.9zM2022.3 439.3h1.9V454.4h-1.9zM2021.3 454.4h3.8V476.4h-3.8zM2022.3 476.4h1.9V484.8h-1.9zM2039.9 520.3h1.9V535.2h-1.9zM2038.9 535.2h3.8V540.1h-3.8zM2039.9 540.1h1.9V541.6h-1.9zM2048.7 512h1.9V526.7h-1.9zM2047.7 526.7h3.8V528.7h-3.8zM2048.7 528.7h1.9V533.2h-1.9zM2061.9 617.8h1.9V628.1h-1.9zM2060.9 628.1h3.8V644.8h-3.8zM2061.9 644.8h1.9V651.2h-1.9zM2066.3 610.2h1.9V627.3h-1.9zM2065.3 627.3h3.8V630.4h-3.8zM2066.3 630.4h1.9V640.5h-1.9zM2075.1 605.3h1.9V631.1h-1.9zM2074.1 631.1h3.8V639.9h-3.8zM2075.1 639.9h1.9V644.5h-1.9zM2088.3 615.6h1.9V617.5h-1.9zM2087.4 617.5h3.8V627.8h-3.8zM2088.3 627.8h1.9V641.7h-1.9zM2097.1 595h1.9V602.3h-1.9zM2096.2 602.3h3.8V616.3h-3.8zM2097.1 616.3h1.9V620.2h-1.9zM2101.5 591.4h1.9V599.6h-1.9zM2100.6 599.6h3.8V602h-3.8zM2101.5 602h1.9V613.7h-1.9zM2105.9 595h1.9V608.1h-1.9zM2105 608.1h3.8V610.6h-3.8zM2105.9 610.6h1.9V619.3h-1.9zM2110.3 587.4h1.9V599h-1.9zM2109.4 599h3.8V604.6h-3.8zM2110.3 604.6h1.9V620.8h-1.9zM2114.7 563.1h1.9V579.2h-1.9zM2113.8 579.2h3.8V601.5h-3.8zM2114.7 601.5h1.9V605.6h-1.9zM2119.1 553.4h1.9V571.6h-1.9zM2118.2 571.6h3.8V581.4h-3.8zM2119.1 581.4h1.9V589.8h-1.9zM2127.9 582.6h1.9V585.3h-1.9zM2127 585.3h3.8V598h-3.8zM2127.9 598h1.9V603.1h-1.9zM2136.7 581.8h1.9V585.9h-1.9zM2135.8 585.9h3.8V639.5h-3.8zM2136.7 639.5h1.9V656.9h-1.9zM2158.8 591.4h1.9V600.8h-1.9zM2157.8 600.8h3.8V615.2h-3.8zM2163.2 597h1.9V598.5h-1.9zM2162.2 598.5h3.8V604.1h-3.8zM2163.2 604.1h1.9V629.6h-1.9zM2167.6 586.4h1.9V603.1h-1.9zM2166.6 603.1h3.8V608.1h-3.8zM2167.6 608.1h1.9V609.6h-1.9zM2176.4 597h1.9V599.6h-1.9zM2175.4 599.6h3.8V604.6h-3.8zM2176.4 604.6h1.9V612.6h-1.9zM2189.6 621.3h1.9V630.4h-1.9zM2188.6 630.4h3.8V670.6h-3.8zM2189.6 670.6h1.9V674.8h-1.9zM2194 639.5h1.9V639.9h-1.9zM2193 639.9h3.8V641.4h-3.8zM2194 641.4h1.9V667.2h-1.9zM2198.4 601.5h1.9V602h-1.9zM2197.4 602h3.8V643.6h-3.8zM2198.4 643.6h1.9V649.3h-1.9zM2207.2 557.1h1.9V572.2h-1.9zM2206.2 572.2h3.8V615.2h-3.8zM2207.2 615.2h1.9V622.8h-1.9zM2211.6 558.3h1.9V562.8h-1.9zM2210.6 562.8h3.8V571.9h-3.8zM2211.6 571.9h1.9V584.8h-1.9zM2238 718.6h1.9V723.2h-1.9zM2237.1 723.2h3.8V733.5h-3.8zM2238 733.5h1.9V756.9h-1.9zM2251.2 676.1h1.9V689h-1.9zM2250.3 689h3.8V720.9h-3.8zM2251.2 720.9h1.9V742.6h-1.9zM2255.6 663.2h1.9V664.8h-1.9zM2254.7 664.8h3.8V703.8h-3.8zM2255.6 703.8h1.9V715.6h-1.9zM2264.4 685.6h1.9V704.2h-1.9zM2263.5 704.2h3.8V710.7h-3.8zM2264.4 710.7h1.9V720.2h-1.9zM2273.2 917.6h1.9V937.6h-1.9zM2272.3 937.6h3.8V966.5h-3.8zM2273.2 966.5h1.9V981.9h-1.9zM2277.6 893.1h1.9V893.7h-1.9zM2276.7 893.7h3.8V931.5h-3.8zM2277.6 931.5h1.9V952.2h-1.9zM2286.4 966h1.9V970.5h-1.9zM2285.5 970.5h3.8V983.5h-3.8zM2286.4 983.5h1.9V1048.6h-1.9zM2290.8 907.1h1.9V938.8h-1.9zM2289.9 938.8h3.8V943.8h-3.8zM2290.8 943.8h1.9V962.7h-1.9zM2295.2 929.3h1.9V931h-1.9zM2294.3 931h3.8V963.9h-3.8zM2295.2 963.9h1.9V976h-1.9zM2299.7 891.4h1.9V896.4h-1.9zM2298.7 896.4h3.8V928.5h-3.8zM2304.1 858h1.9V864.2h-1.9zM2303.1 864.2h3.8V883.4h-3.8zM2304.1 883.4h1.9V902.6h-1.9zM2317.3 901.8h1.9V926.5h-1.9zM2316.3 926.5h3.8V936.5h-3.8zM2317.3 936.5h1.9V948.8h-1.9zM2326.1 922.1h1.9V947.2h-1.9zM2325.1 947.2h3.8V968.5h-3.8zM2326.1 968.5h1.9V979.9h-1.9zM2330.5 904.3h1.9V910.1h-1.9zM2329.5 910.1h3.8V944.8h-3.8zM2339.3 903.4h1.9V906.4h-1.9zM2338.3 906.4h3.8V929.8h-3.8zM2339.3 929.8h1.9V944.8h-1.9z"/>
<path fill="#f23645" d="M45.3 1019.9h1.9V1028.4h-1.9zM44.4 1028.4h3.8V1036.3h-3.8zM45.3 1036.3h1.9V1041.6h-1.9zM54.1 984h1.9V993.1h-1.9zM53.2 993.1h3.8V1007.5h-3.8zM54.1 1007.5h1.9V1018.4h-1.9zM71.7 949.1h1.9V955.9h-1.9zM70.8 955.9h3.8V963.5h-3.8zM71.7 963.5h1.9V971.8h-1.9zM80.5 956.6h1.9V963.2h-1.9zM79.6 963.2h3.8V964.4h-3.8zM80.5 964.4h1.9V977.6h-1.9zM84 982h3.8V1016.6h-3.8zM84.9 1016.6h1.9V1039.1h-1.9zM92.8 969.5h3.8V1000.7h-3.8zM93.7 1000.7h1.9V1006.7h-1.9zM107 998.1h1.9V1002.9h-1.9zM106 1002.9h3.8V1013.6h-3.8zM107 1013.6h1.9V1019.3h-1.9zM111.4 1008.7h1.9V1013.3h-1.9zM110.4 1013.3h3.8V1021.1h-3.8zM111.4 1021.1h1.9V1026.9h-1.9zM133.4 899.7h1.9V902.8h-1.9zM132.4 902.8h3.8V923.3h-3.8zM133.4 923.3h1.9V924h-1.9zM142.2 896.2h1.9V902.6h-1.9zM141.2 902.6h3.8V911.4h-3.8zM142.2 911.4h1.9V926.6h-1.9zM151 881.8h1.9V893.9h-1.9zM150 893.9h3.8V909.9h-3.8zM164.2 867.4h1.9V868.9h-1.9zM163.2 868.9h3.8V876.5h-3.8zM164.2 876.5h1.9V880.7h-1.9zM168.6 883.8h1.9V893.2h-1.9zM167.6 893.2h3.8V909.9h-3.8zM168.6 909.9h1.9V920.5h-1.9zM177.4 877.3h1.9V879.2h-1.9zM176.5 879.2h3.8V890.9h-3.8zM177.4 890.9h1.9V896.2h-1.9zM181.8 883.8h1.9V888.6h-1.9zM180.9 888.6h3.8V897h-3.8zM181.8 897h1.9V901.5h-1.9zM186.2 885.6h1.9V904.6h-1.9zM185.3 904.6h3.8V924.7h-3.8zM190.6 905.6h1.9V906.5h-1.9zM189.7 906.5h3.8V922h-3.8zM190.6 922h1.9V925.8h-1.9zM199.4 895h1.9V896.2h-1.9zM198.5 896.2h3.8V909.9h-3.8zM199.4 909.9h1.9V911.7h-1.9zM224.9 831h3.8V844.6h-3.8zM225.8 844.6h1.9V856h-1.9zM230.2 829.9h1.9V838.6h-1.9zM229.3 838.6h3.8V875.7h-3.8zM234.6 852.5h1.9V863.3h-1.9zM233.7 863.3h3.8V864.7h-3.8zM234.6 864.7h1.9V879.5h-1.9zM252.3 878h1.9V881h-1.9zM251.3 881h3.8V920.2h-3.8zM256.7 911.1h1.9V913.2h-1.9zM255.7 913.2h3.8V931.9h-3.8zM256.7 931.9h1.9V952.7h-1.9zM265.5 902.6h1.9V914.1h-1.9zM264.5 914.1h3.8V933.4h-3.8zM265.5 933.4h1.9V943.6h-1.9zM278.7 932.9h1.9V947.1h-1.9zM277.7 947.1h3.8V955.7h-3.8zM282.1 949h3.8V950.5h-3.8zM283.1 950.5h1.9V968.8h-1.9zM287.5 961h1.9V980h-1.9zM286.5 980h3.8V985.7h-3.8zM287.5 985.7h1.9V994.8h-1.9zM304.1 896.2h3.8V941.7h-3.8zM305.1 941.7h1.9V958.1h-1.9zM313.9 901.5h1.9V904.1h-1.9zM312.9 904.1h3.8V929.6h-3.8zM318.3 928.8h1.9V931.4h-1.9zM317.4 931.4h3.8V947.1h-3.8zM318.3 947.1h1.9V947.8h-1.9zM322.7 946.3h1.9V952.1h-1.9zM321.8 952.1h3.8V957.7h-3.8zM322.7 957.7h1.9V966.8h-1.9zM349.1 864.9h1.9V869.9h-1.9zM348.2 869.9h3.8V885.1h-3.8zM349.1 885.1h1.9V890.7h-1.9zM357 881h3.8V898.8h-3.8zM357.9 898.8h1.9V905.3h-1.9zM366.7 871.5h1.9V876.8h-1.9zM365.8 876.8h3.8V878.6h-3.8zM366.7 878.6h1.9V890.7h-1.9zM402 832.8h1.9V842.2h-1.9zM401 842.2h3.8V874.5h-3.8zM402 874.5h1.9V878.6h-1.9zM406.4 860.1h1.9V862.8h-1.9zM405.4 862.8h3.8V887.7h-3.8zM406.4 887.7h1.9V895.7h-1.9zM410.8 927.1h1.9V933.2h-1.9zM409.8 933.2h3.8V958h-3.8zM410.8 958h1.9V961h-1.9zM419.6 945.1h1.9V945.8h-1.9zM418.6 945.8h3.8V961h-3.8zM419.6 961h1.9V973.1h-1.9zM437.2 863.9h1.9V870.4h-1.9zM436.2 870.4h3.8V872.2h-3.8zM437.2 872.2h1.9V888.1h-1.9zM441.6 874h1.9V876h-1.9zM440.6 876h3.8V877.5h-3.8zM441.6 877.5h1.9V890.7h-1.9zM446 878h1.9V880.1h-1.9zM445 880.1h3.8V891.9h-3.8zM446 891.9h1.9V905.9h-1.9zM454.8 818.8h1.9V834h-1.9zM453.8 834h3.8V867.4h-3.8zM459.2 844.1h1.9V857.3h-1.9zM458.2 857.3h3.8V897.7h-3.8zM468 874.5h1.9V881h-1.9zM467.1 881h3.8V886.2h-3.8zM468 886.2h1.9V896.8h-1.9zM485.6 831.9h1.9V838.8h-1.9zM484.7 838.8h3.8V853.1h-3.8zM485.6 853.1h1.9V867.4h-1.9zM507.6 763.1h1.9V769.4h-1.9zM506.7 769.4h3.8V796.5h-3.8zM507.6 796.5h1.9V801.3h-1.9zM512 787.5h1.9V793.3h-1.9zM511.1 793.3h3.8V801.3h-3.8zM512 801.3h1.9V826h-1.9zM520.8 765.5h1.9V766.6h-1.9zM519.9 766.6h3.8V784.6h-3.8zM520.8 784.6h1.9V787h-1.9zM529.6 748.7h1.9V758h-1.9zM528.7 758h3.8V777.4h-3.8zM534 774.2h1.9V787.8h-1.9zM533.1 787.8h3.8V805.3h-3.8zM534 805.3h1.9V805.8h-1.9zM551.7 761.2h1.9V769.8h-1.9zM550.7 769.8h3.8V778.2h-3.8zM560.5 780.9h1.9V794.1h-1.9zM559.5 794.1h3.8V818h-3.8zM564.9 808.5h1.9V816h-1.9zM563.9 816h3.8V842.7h-3.8zM564.9 842.7h1.9V845.6h-1.9zM582.5 702.5h1.9V710.2h-1.9zM581.5 710.2h3.8V724.8h-3.8zM582.5 724.8h1.9V729.6h-1.9zM595.7 693h1.9V705.7h-1.9zM594.7 705.7h3.8V732.8h-3.8zM600.1 722.4h1.9V729.3h-1.9zM599.1 729.3h3.8V740.8h-3.8zM600.1 740.8h1.9V753.8h-1.9zM608.9 702.2h1.9V705.7h-1.9zM607.9 705.7h3.8V745.5h-3.8zM613.3 759.1h1.9V766.6h-1.9zM612.4 766.6h3.8V792.6h-3.8zM613.3 792.6h1.9V799.4h-1.9zM639.7 751.9h1.9V756.4h-1.9zM638.8 756.4h3.8V764.3h-3.8zM639.7 764.3h1.9V773.9h-1.9zM666.1 679.2h1.9V685.9h-1.9zM665.2 685.9h3.8V706.6h-3.8zM670.5 692.2h1.9V699h-1.9zM669.6 699h3.8V700.6h-3.8zM670.5 700.6h1.9V707h-1.9zM679.3 695.1h1.9V704.2h-1.9zM678.4 704.2h3.8V709.8h-3.8zM679.3 709.8h1.9V714.6h-1.9zM683.7 706.3h1.9V714.6h-1.9zM682.8 714.6h3.8V721.7h-3.8zM683.7 721.7h1.9V726.5h-1.9zM692.6 692.2h1.9V699.9h-1.9zM691.6 699.9h3.8V713.8h-3.8zM710.2 663.9h1.9V673.4h-1.9zM709.2 673.4h3.8V687.8h-3.8zM714.6 707.4h1.9V720.6h-1.9zM713.6 720.6h3.8V728.1h-3.8zM714.6 728.1h1.9V733.4h-1.9zM719 713.8h1.9V726.5h-1.9zM718 726.5h3.8V745.6h-3.8zM719 745.6h1.9V751.2h-1.9zM723.4 725.4h1.9V749.6h-1.9zM722.4 749.6h3.8V751.2h-3.8zM723.4 751.2h1.9V756.8h-1.9zM732.2 714.9h1.9V716.5h-1.9zM731.2 716.5h3.8V736.1h-3.8zM732.2 736.1h1.9V738.8h-1.9zM758.6 665.5h1.9V669.1h-1.9zM757.7 669.1h3.8V677.1h-3.8zM758.6 677.1h1.9V685.1h-1.9zM767.4 619.3h1.9V628.8h-1.9zM766.5 628.8h3.8V636.5h-3.8zM767.4 636.5h1.9V641.6h-1.9zM776.2 606.2h1.9V607.8h-1.9zM775.3 607.8h3.8V616.1h-3.8zM776.2 616.1h1.9V634.1h-1.9zM785 619.3h1.9V624.1h-1.9zM784.1 624.1h3.8V636.2h-3.8zM785 636.2h1.9V646.8h-1.9zM793.8 614.5h1.9V633.6h-1.9zM792.9 633.6h3.8V634.9h-3.8zM798.2 601.4h1.9V615.4h-1.9zM797.3 615.4h3.8V637.3h-3.8zM798.2 637.3h1.9V641.6h-1.9zM802.6 632.5h1.9V637.3h-1.9zM801.7 637.3h3.8V641.6h-3.8zM802.6 641.6h1.9V661.7h-1.9zM815.8 662.8h1.9V666.4h-1.9zM814.9 666.4h3.8V670.3h-3.8zM815.8 670.3h1.9V674.7h-1.9zM829 604.3h1.9V608.6h-1.9zM828.1 608.6h3.8V622.9h-3.8zM829 622.9h1.9V634.9h-1.9zM842.3 555.4h1.9V562.5h-1.9zM841.3 562.5h3.8V592.2h-3.8zM842.3 592.2h1.9V599.4h-1.9zM846.7 566.4h1.9V578.8h-1.9zM845.7 578.8h3.8V585.5h-3.8zM846.7 585.5h1.9V588.7h-1.9zM859.9 559.2h1.9V567.5h-1.9zM858.9 567.5h3.8V585h-3.8zM864.3 489.4h1.9V500.7h-1.9zM863.3 500.7h3.8V549.7h-3.8zM890.7 482.5h1.9V484h-1.9zM889.7 484h3.8V517.4h-3.8zM890.7 517.4h1.9V517.9h-1.9zM895.1 528.1h1.9V538.2h-1.9zM894.1 538.2h3.8V553.4h-3.8zM895.1 553.4h1.9V564.5h-1.9zM903.9 544h1.9V545.5h-1.9zM902.9 545.5h3.8V561.4h-3.8zM903.9 561.4h1.9V569.8h-1.9zM912.7 514.4h1.9V530h-1.9zM911.8 530h3.8V568h-3.8zM921.5 487.1h1.9V490.9h-1.9zM920.6 490.9h3.8V502.7h-3.8zM921.5 502.7h1.9V513.3h-1.9zM925.9 485.1h1.9V492.1h-1.9zM925 492.1h3.8V502.3h-3.8zM925.9 502.3h1.9V502.7h-1.9zM943.5 520h1.9V524.6h-1.9zM942.6 524.6h3.8V534.1h-3.8zM943.5 534.1h1.9V544.7h-1.9zM956.7 488.1h1.9V500.7h-1.9zM955.8 500.7h3.8V509.4h-3.8zM956.7 509.4h1.9V515.2h-1.9zM965.5 458.2h1.9V466.9h-1.9zM964.6 466.9h3.8V468.9h-3.8zM965.5 468.9h1.9V484.8h-1.9zM969.9 456.3h1.9V459h-1.9zM969 459h3.8V487.8h-3.8zM978.8 494.7h1.9V496.9h-1.9zM977.8 496.9h3.8V512.4h-3.8zM978.8 512.4h1.9V519.7h-1.9zM983.2 493.9h1.9V501.5h-1.9zM982.2 501.5h3.8V504.8h-3.8zM983.2 504.8h1.9V508.3h-1.9zM1022.8 368.2h1.9V370.8h-1.9zM1021.8 370.8h3.8V378.4h-3.8zM1022.8 378.4h1.9V410.7h-1.9zM1031.6 344.6h1.9V358.2h-1.9zM1030.6 358.2h3.8V361.7h-3.8zM1031.6 361.7h1.9V369.7h-1.9zM1040.4 360.6h1.9V371.9h-1.9zM1039.4 371.9h3.8V373.8h-3.8zM1040.4 373.8h1.9V378.4h-1.9zM1049.2 373.1h1.9V375.4h-1.9zM1048.2 375.4h3.8V389h-3.8zM1049.2 389h1.9V396.2h-1.9zM1061.5 357.9h3.8V371.6h-3.8zM1062.4 371.6h1.9V381.9h-1.9zM1065.9 377.6h3.8V395.1h-3.8zM1066.8 395.1h1.9V397.4h-1.9zM1075.6 384.5h1.9V389h-1.9zM1074.7 389h3.8V404.7h-3.8zM1075.6 404.7h1.9V408h-1.9zM1102 327.6h1.9V338.9h-1.9zM1101.1 338.9h3.8V340.9h-3.8zM1102 340.9h1.9V353.1h-1.9zM1128.5 248.4h1.9V252.9h-1.9zM1127.5 252.9h3.8V254.7h-3.8zM1128.5 254.7h1.9V262.3h-1.9zM1141.7 203.2h1.9V208.7h-1.9zM1140.7 208.7h3.8V212h-3.8zM1141.7 212h1.9V221.9h-1.9zM1150.5 174.1h1.9V177.9h-1.9zM1149.5 177.9h3.8V218.4h-3.8zM1150.5 218.4h1.9V253.7h-1.9zM1159.3 177.4h1.9V179.4h-1.9zM1158.3 179.4h3.8V183.5h-3.8zM1159.3 183.5h1.9V206.7h-1.9zM1185.7 144.5h1.9V150.1h-1.9zM1184.7 150.1h3.8V166.2h-3.8zM1185.7 166.2h1.9V167.7h-1.9zM1190.1 154.1h1.9V158.1h-1.9zM1189.1 158.1h3.8V160.4h-3.8zM1190.1 160.4h1.9V171.8h-1.9zM1198.9 107h1.9V113.4h-1.9zM1198 113.4h3.8V117.2h-3.8zM1198.9 117.2h1.9V132.8h-1.9zM1207.7 107h1.9V113.4h-1.9zM1206.8 113.4h3.8V129.8h-3.8zM1207.7 129.8h1.9V133.9h-1.9zM1216.5 105h1.9V114.6h-1.9zM1215.6 114.6h3.8V121.3h-3.8zM1216.5 121.3h1.9V126.3h-1.9zM1220.9 89.9h1.9V92.1h-1.9zM1220 92.1h3.8V133.4h-3.8zM1220.9 133.4h1.9V138.4h-1.9zM1225.3 121h1.9V128.6h-1.9zM1224.4 128.6h3.8V141.5h-3.8zM1225.3 141.5h1.9V144.9h-1.9zM1229.7 131.3h1.9V147.5h-1.9zM1228.8 147.5h3.8V149.5h-3.8zM1229.7 149.5h1.9V152.1h-1.9zM1247.3 147.5h1.9V171.8h-1.9zM1246.4 171.8h3.8V187.4h-3.8zM1247.3 187.4h1.9V192.6h-1.9zM1260.5 174.8h1.9V191.1h-1.9zM1259.6 191.1h3.8V241.6h-3.8zM1269.3 192h1.9V201.1h-1.9zM1268.4 201.1h3.8V226h-3.8zM1269.3 226h1.9V254.8h-1.9zM1273.8 238.1h1.9V263.6h-1.9zM1272.8 263.6h3.8V272h-3.8zM1273.8 272h1.9V275h-1.9zM1278.2 267.4h1.9V271.9h-1.9zM1277.2 271.9h3.8V353.4h-3.8zM1278.2 353.4h1.9V366h-1.9zM1282.6 351.3h1.9V354.9h-1.9zM1281.6 354.9h3.8V378.6h-3.8zM1282.6 378.6h1.9V381.9h-1.9zM1291.4 339.1h1.9V363h-1.9zM1290.4 363h3.8V390.7h-3.8zM1291.4 390.7h1.9V402.9h-1.9zM1304.6 301.2h1.9V310.9h-1.9zM1303.6 310.9h3.8V323h-3.8zM1304.6 323h1.9V342.5h-1.9zM1313.4 284h1.9V295.7h-1.9zM1312.4 295.7h3.8V298.8h-3.8zM1313.4 298.8h1.9V319.7h-1.9zM1331 236.2h1.9V237h-1.9zM1330 237h3.8V300.3h-3.8zM1331 300.3h1.9V300.7h-1.9zM1339.8 301.2h1.9V320h-1.9zM1338.8 320h3.8V322h-3.8zM1339.8 322h1.9V326.5h-1.9zM1344.2 318.2h1.9V333.4h-1.9zM1343.2 333.4h3.8V338.7h-3.8zM1344.2 338.7h1.9V352.8h-1.9zM1353 301.2h1.9V302.7h-1.9zM1352.1 302.7h3.8V304.5h-3.8zM1353 304.5h1.9V334.9h-1.9zM1356.5 327.6h3.8V375.8h-3.8zM1357.4 375.8h1.9V378.6h-1.9zM1361.8 365.6h1.9V389.2h-1.9zM1360.9 389.2h3.8V431.1h-3.8zM1361.8 431.1h1.9V453.7h-1.9zM1375 494.8h1.9V551.3h-1.9zM1374.1 551.3h3.8V556.7h-3.8zM1375 556.7h1.9V566.2h-1.9zM1379.4 397.2h1.9V403.3h-1.9zM1378.5 403.3h3.8V439.7h-3.8zM1379.4 439.7h1.9V446.4h-1.9zM1383.8 414.2h1.9V415.5h-1.9zM1382.9 415.5h3.8V477.4h-3.8zM1383.8 477.4h1.9V494.8h-1.9zM1401.4 422.7h1.9V431.8h-1.9zM1400.5 431.8h3.8V468.8h-3.8zM1401.4 468.8h1.9V469.3h-1.9zM1405.8 490.1h1.9V498.5h-1.9zM1404.9 498.5h3.8V525.8h-3.8zM1405.8 525.8h1.9V546.6h-1.9zM1410.2 339.1h1.9V351.6h-1.9zM1409.3 351.6h3.8V356.4h-3.8zM1410.2 356.4h1.9V394.8h-1.9zM1432.3 255.2h1.9V263.3h-1.9zM1431.3 263.3h3.8V265.1h-3.8zM1432.3 265.1h1.9V297.2h-1.9zM1445.5 188.9h1.9V190.1h-1.9zM1444.5 190.1h3.8V206.8h-3.8zM1445.5 206.8h1.9V231h-1.9zM1449.9 209.8h1.9V214.4h-1.9zM1448.9 214.4h3.8V225.3h-3.8zM1454.3 190.8h1.9V209h-1.9zM1453.3 209h3.8V216.6h-3.8zM1454.3 216.6h1.9V228h-1.9zM1458.7 207.1h1.9V215.9h-1.9zM1457.7 215.9h3.8V224.2h-3.8zM1458.7 224.2h1.9V230.7h-1.9zM1463.1 181.3h1.9V209h-1.9zM1462.1 209h3.8V218.9h-3.8zM1463.1 218.9h1.9V252.6h-1.9zM1467.5 204.9h1.9V206h-1.9zM1466.5 206h3.8V219.7h-3.8zM1467.5 219.7h1.9V229.8h-1.9zM1471.9 225.7h1.9V234.8h-1.9zM1470.9 234.8h3.8V248h-3.8zM1471.9 248h1.9V250.8h-1.9zM1502.7 177.6h1.9V199.5h-1.9zM1501.8 199.5h3.8V230.7h-3.8zM1502.7 230.7h1.9V259.6h-1.9zM1507.1 195.4h1.9V203.4h-1.9zM1506.2 203.4h3.8V220.7h-3.8zM1507.1 220.7h1.9V223.2h-1.9zM1515.9 196.4h1.9V206.8h-1.9zM1515 206.8h3.8V214.1h-3.8zM1515.9 214.1h1.9V218.6h-1.9zM1520.3 188.9h1.9V191.6h-1.9zM1519.4 191.6h3.8V219.7h-3.8zM1520.3 219.7h1.9V225.7h-1.9zM1542.3 149.1h1.9V163.5h-1.9zM1541.4 163.5h3.8V166.1h-3.8zM1542.3 166.1h1.9V171.9h-1.9zM1551.1 164.3h1.9V165h-1.9zM1550.2 165h3.8V186.7h-3.8zM1551.1 186.7h1.9V208.6h-1.9zM1555.5 183.2h1.9V190.1h-1.9zM1554.6 190.1h3.8V198.9h-3.8zM1555.5 198.9h1.9V215.9h-1.9zM1559.9 195.4h1.9V197.7h-1.9zM1559 197.7h3.8V214.7h-3.8zM1559.9 214.7h1.9V218.6h-1.9zM1568.8 247.4h1.9V259.1h-1.9zM1567.8 259.1h3.8V268.7h-3.8zM1568.8 268.7h1.9V272.8h-1.9zM1581 264.4h3.8V280.8h-3.8zM1582 280.8h1.9V288.7h-1.9zM1586.4 293h1.9V297.5h-1.9zM1585.4 297.5h3.8V314.8h-3.8zM1586.4 314.8h1.9V315.3h-1.9zM1599.6 245.5h1.9V262.6h-1.9zM1598.6 262.6h3.8V267.5h-3.8zM1599.6 267.5h1.9V278.4h-1.9zM1604 260.6h1.9V263.7h-1.9zM1603 263.7h3.8V283.9h-3.8zM1608.4 278.4h1.9V282.3h-1.9zM1607.4 282.3h3.8V289.5h-3.8zM1608.4 289.5h1.9V309.7h-1.9zM1617.2 237.9h1.9V240.9h-1.9zM1616.2 240.9h3.8V247h-3.8zM1617.2 247h1.9V252.6h-1.9zM1621.6 225h1.9V238.3h-1.9zM1620.6 238.3h3.8V263.2h-3.8zM1626 256h1.9V259.8h-1.9zM1625 259.8h3.8V279.6h-3.8zM1626 279.6h1.9V297h-1.9zM1634.8 252.3h1.9V260.3h-1.9zM1633.8 260.3h3.8V263.3h-3.8zM1634.8 263.3h1.9V267.4h-1.9zM1652.4 175.6h1.9V188.1h-1.9zM1651.5 188.1h3.8V214.8h-3.8zM1652.4 214.8h1.9V220.4h-1.9zM1656.8 221.1h1.9V232.5h-1.9zM1655.9 232.5h3.8V243.1h-3.8zM1678.8 190h1.9V193.8h-1.9zM1677.9 193.8h3.8V209h-3.8zM1678.8 209h1.9V216.6h-1.9zM1683.2 200.2h1.9V208.2h-1.9zM1682.3 208.2h3.8V212.3h-3.8zM1683.2 212.3h1.9V224.2h-1.9zM1687.6 205.2h1.9V217.4h-1.9zM1686.7 217.4h3.8V239.4h-3.8zM1687.6 239.4h1.9V240.6h-1.9zM1692 254.8h1.9V265.2h-1.9zM1691.1 265.2h3.8V308.4h-3.8zM1692 308.4h1.9V336.8h-1.9zM1696.4 292.8h1.9V317.5h-1.9zM1695.5 317.5h3.8V326.6h-3.8zM1696.4 326.6h1.9V342.2h-1.9zM1705.2 311.4h1.9V313h-1.9zM1704.3 313h3.8V340.3h-3.8zM1705.2 340.3h1.9V343.3h-1.9zM1718.5 242.7h1.9V251.2h-1.9zM1717.5 251.2h3.8V295.8h-3.8zM1718.5 295.8h1.9V298.2h-1.9zM1722.9 300.4h1.9V306.9h-1.9zM1721.9 306.9h3.8V336.8h-3.8zM1722.9 336.8h1.9V348.3h-1.9zM1727.3 323.1h1.9V331.6h-1.9zM1726.3 331.6h3.8V335.7h-3.8zM1727.3 335.7h1.9V341.3h-1.9zM1744.9 278.5h1.9V289.7h-1.9zM1743.9 289.7h3.8V299.7h-3.8zM1744.9 299.7h1.9V309.5h-1.9zM1748.3 289.1h3.8V304.3h-3.8zM1749.3 304.3h1.9V312.2h-1.9zM1753.7 310.6h1.9V313.4h-1.9zM1752.7 313.4h3.8V425.6h-3.8zM1766.9 358.9h1.9V371h-1.9zM1765.9 371h3.8V389.5h-3.8zM1770.3 385h3.8V391.4h-3.8zM1771.3 391.4h1.9V398.9h-1.9zM1775.7 377.7h1.9V386.2h-1.9zM1774.7 386.2h3.8V390.7h-3.8zM1775.7 390.7h1.9V396.4h-1.9zM1784.5 412.6h1.9V414.6h-1.9zM1783.5 414.6h3.8V424.1h-3.8zM1784.5 424.1h1.9V427.5h-1.9zM1806.5 383.5h1.9V390.7h-1.9zM1805.6 390.7h3.8V394.8h-3.8zM1806.5 394.8h1.9V402.4h-1.9zM1810.9 402.4h1.9V406.2h-1.9zM1810 406.2h3.8V427.5h-3.8zM1810.9 427.5h1.9V430.2h-1.9zM1819.7 415.6h1.9V422.2h-1.9zM1818.8 422.2h3.8V459.6h-3.8zM1832.9 412.6h1.9V414.6h-1.9zM1832 414.6h3.8V451.7h-3.8zM1832.9 451.7h1.9V453.6h-1.9zM1846.1 391h1.9V403.5h-1.9zM1845.2 403.5h3.8V485.4h-3.8zM1846.1 485.4h1.9V490.4h-1.9zM1850.5 492.2h1.9V498h-1.9zM1849.6 498h3.8V515.1h-3.8zM1850.5 515.1h1.9V520.6h-1.9zM1859.4 505.5h1.9V510.7h-1.9zM1858.4 510.7h3.8V554.8h-3.8zM1859.4 554.8h1.9V577.8h-1.9zM1863.8 544.2h1.9V551.6h-1.9zM1862.8 551.6h3.8V583.8h-3.8zM1863.8 583.8h1.9V592.8h-1.9zM1881.4 462.1h1.9V472.2h-1.9zM1880.4 472.2h3.8V478.3h-3.8zM1881.4 478.3h1.9V486.9h-1.9zM1894.6 444.2h1.9V448h-1.9zM1893.6 448h3.8V474.2h-3.8zM1894.6 474.2h1.9V497.3h-1.9zM1898 471.5h3.8V475.3h-3.8zM1899 475.3h1.9V498h-1.9zM1921 417.6h1.9V420.2h-1.9zM1920 420.2h3.8V438.4h-3.8zM1921 438.4h1.9V451h-1.9zM1938.6 372.2h1.9V374.8h-1.9zM1937.7 374.8h3.8V383.4h-3.8zM1938.6 383.4h1.9V401.6h-1.9zM1943 374h1.9V375.8h-1.9zM1942.1 375.8h3.8V435.5h-3.8zM1947.4 411.9h1.9V425.9h-1.9zM1946.5 425.9h3.8V429.4h-3.8zM1947.4 429.4h1.9V441.5h-1.9zM1978.2 359.1h1.9V360h-1.9zM1977.3 360h3.8V390.7h-3.8zM1978.2 390.7h1.9V392.5h-1.9zM1986.1 358.8h3.8V415h-3.8zM2000.2 423.3h1.9V426.8h-1.9zM1999.3 426.8h3.8V481h-3.8zM2000.2 481h1.9V487.8h-1.9zM2009.1 466.6h1.9V476.4h-1.9zM2008.1 476.4h3.8V478.4h-3.8zM2009.1 478.4h1.9V484.8h-1.9zM2026.7 461.9h1.9V471.4h-1.9zM2025.7 471.4h3.8V529.3h-3.8zM2026.7 529.3h1.9V531.7h-1.9zM2031.1 512.8h1.9V515h-1.9zM2030.1 515h3.8V547.7h-3.8zM2031.1 547.7h1.9V550.4h-1.9zM2035.5 512.8h1.9V522.2h-1.9zM2034.5 522.2h3.8V543.1h-3.8zM2035.5 543.1h1.9V543.9h-1.9zM2044.3 509.7h1.9V518.1h-1.9zM2043.3 518.1h3.8V525.7h-3.8zM2044.3 525.7h1.9V526.4h-1.9zM2053.1 558.3h1.9V560.6h-1.9zM2052.1 560.6h3.8V582.3h-3.8zM2053.1 582.3h1.9V609.9h-1.9zM2057.5 577.3h1.9V578h-1.9zM2056.5 578h3.8V615.2h-3.8zM2057.5 615.2h1.9V624.7h-1.9zM2070.7 593.9h1.9V615.2h-1.9zM2069.7 615.2h3.8V618.7h-3.8zM2070.7 618.7h1.9V620.2h-1.9zM2079.5 593.9h1.9V609.1h-1.9zM2078.6 609.1h3.8V610.6h-3.8zM2079.5 610.6h1.9V620.2h-1.9zM2083.9 619.3h1.9V629.6h-1.9zM2083 629.6h3.8V631.4h-3.8zM2083.9 631.4h1.9V653.1h-1.9zM2092.7 600.5h1.9V611.7h-1.9zM2091.8 611.7h3.8V613.2h-3.8zM2092.7 613.2h1.9V617.5h-1.9zM2122.6 564.7h3.8V600h-3.8zM2132.3 581.8h1.9V586.4h-1.9zM2131.4 586.4h3.8V588.3h-3.8zM2132.3 588.3h1.9V614.4h-1.9zM2141.1 580.7h1.9V589.4h-1.9zM2140.2 589.4h3.8V604.6h-3.8zM2141.1 604.6h1.9V605.6h-1.9zM2145.5 567.4h1.9V599.6h-1.9zM2144.6 599.6h3.8V604.6h-3.8zM2149.9 604.6h1.9V614.7h-1.9zM2149 614.7h3.8V616.3h-3.8zM2149.9 616.3h1.9V632.6h-1.9zM2154.4 606.5h1.9V618.7h-1.9zM2153.4 618.7h3.8V623.8h-3.8zM2154.4 623.8h1.9V632.6h-1.9zM2172 597h1.9V599h-1.9zM2171 599h3.8V612.6h-3.8zM2180.8 593.9h1.9V601.5h-1.9zM2179.8 601.5h3.8V605h-3.8zM2180.8 605h1.9V607.6h-1.9zM2185.2 601.5h1.9V606.8h-1.9zM2184.2 606.8h3.8V653.1h-3.8zM2185.2 653.1h1.9V670.9h-1.9zM2202.8 597h1.9V601.5h-1.9zM2201.8 601.5h3.8V615.9h-3.8zM2202.8 615.9h1.9V622.8h-1.9zM2216 517.6h1.9V571.9h-1.9zM2215 571.9h3.8V575.3h-3.8zM2216 575.3h1.9V580.3h-1.9zM2220.4 558.3h1.9V567.4h-1.9zM2219.4 567.4h3.8V624.3h-3.8zM2224.8 619.3h1.9V619.7h-1.9zM2223.8 619.7h3.8V648.1h-3.8zM2229.2 637.5h1.9V643.1h-1.9zM2228.3 643.1h3.8V657.6h-3.8zM2229.2 657.6h1.9V675.8h-1.9zM2233.6 677.4h1.9V689h-1.9zM2232.7 689h3.8V707.3h-3.8zM2233.6 707.3h1.9V709.8h-1.9zM2242.4 719.4h1.9V725h-1.9zM2241.5 725h3.8V749.3h-3.8zM2242.4 749.3h1.9V766.4h-1.9zM2246.8 738.4h1.9V745.2h-1.9zM2245.9 745.2h3.8V759.6h-3.8zM2246.8 759.6h1.9V781.6h-1.9zM2260 647.6h1.9V659.2h-1.9zM2259.1 659.2h3.8V710.7h-3.8zM2260 710.7h1.9V720.2h-1.9zM2268.8 847h1.9V857h-1.9zM2267.9 857h3.8V997.7h-3.8zM2268.8 997.7h1.9V1022.3h-1.9zM2282 860h1.9V868h-1.9zM2281.1 868h3.8V973.9h-3.8zM2282 973.9h1.9V985.6h-1.9zM2308.5 881.7h1.9V898.1h-1.9zM2307.5 898.1h3.8V954.3h-3.8zM2312.9 916.8h1.9V942.2h-1.9zM2311.9 942.2h3.8V946.8h-3.8zM2312.9 946.8h1.9V956h-1.9zM2320.7 897.1h3.8V959.8h-3.8zM2334.9 899.8h1.9V907.6h-1.9zM2333.9 907.6h3.8V936.5h-3.8zM2334.9 936.5h1.9V941.8h-1.9z"/>
<defs>
<clipPath id="cV"><rect x="220" y="1246.1" width="45" height="28.7"/></clipPath>
<clipPath id="cA"><rect x="120" y="1250" width="27" height="30"/></clipPath>
<clipPath id="cD"><rect x="145" y="1250" width="26.8" height="30"/></clipPath>
<clipPath id="cG"><rect x="200" y="1250" width="28.5" height="30"/></clipPath>
<clipPath id="cW"><rect x="285" y="1254.1" width="40" height="20.7"/></clipPath>
</defs>
<g fill="#121212" stroke="none">
<path d="M22.6 1246h22.7v28.4H34v-17.1H22.6z"/>
<circle cx="54.7" cy="1251.6" r="5.6"/>
<path d="M67.2 1246H79l-11 28.4H55z"/>
<path d="M92.3 1246.1H113.1V1251.7H105.8V1274.8H100.1V1251.7H92.3z"/>
<path d="M113.2 1254.1H118.85V1274.8H113.2z"/>
<path d="M118.8 1256.2Q120.8 1254.05 125.3 1253.95V1259Q120.8 1259 118.8 1263.6z"/>
<path d="M141.9 1254.1H147V1274.8H141.9z"/>
<path d="M166.2 1246.1H171.8V1274.8H166.2z"/>
<path d="M175.56 1254.1H181.05V1274.8H175.56z"/>
<circle cx="178.4" cy="1248.7" r="3.65"/>
<path d="M184.9 1254.1H190.4V1274.8H184.9z"/>
<path d="M258.7 1254.1H264.05V1274.8H258.7z"/>
<circle cx="261.36" cy="1248.5" r="3.68"/>
<path d="M270.4 1261.6H288.9V1265.4H270.4z"/>
</g>
<g fill="none" stroke="#121212">
<circle cx="136.85" cy="1264.2" r="8.325" stroke-width="5.25" clip-path="url(#cA)"/>
<circle cx="161.3" cy="1264.2" r="8.325" stroke-width="5.25" clip-path="url(#cD)"/>
<path d="M201 1274.8V1262.6A6.67 6.67 0 0 0 187.65 1262.6" stroke-width="5.6"/>
<circle cx="218" cy="1264.25" r="8.325" stroke-width="5.25" clip-path="url(#cG)"/>
<path d="M225.7 1254.1V1272.5A9.57 8.28 0 0 1 209.46 1278.45" stroke-width="5.6"/>
<path d="M228.23 1240.36L242.52 1274.8L255.65 1240.36" stroke-width="6" stroke-linejoin="miter" stroke-miterlimit="20" clip-path="url(#cV)"/>
<path d="M285.59 1268.35A8.3 8.3 0 1 1 286.69 1264.63" stroke-width="5.2"/>
<path d="M290.84 1249.96L297.73 1274.8L304.79 1254.1L311.95 1274.8L318.65 1249.96" stroke-width="5.77" stroke-linejoin="miter" stroke-miterlimit="20" clip-path="url(#cW)"/>
</g>

</svg>
</body></html>
